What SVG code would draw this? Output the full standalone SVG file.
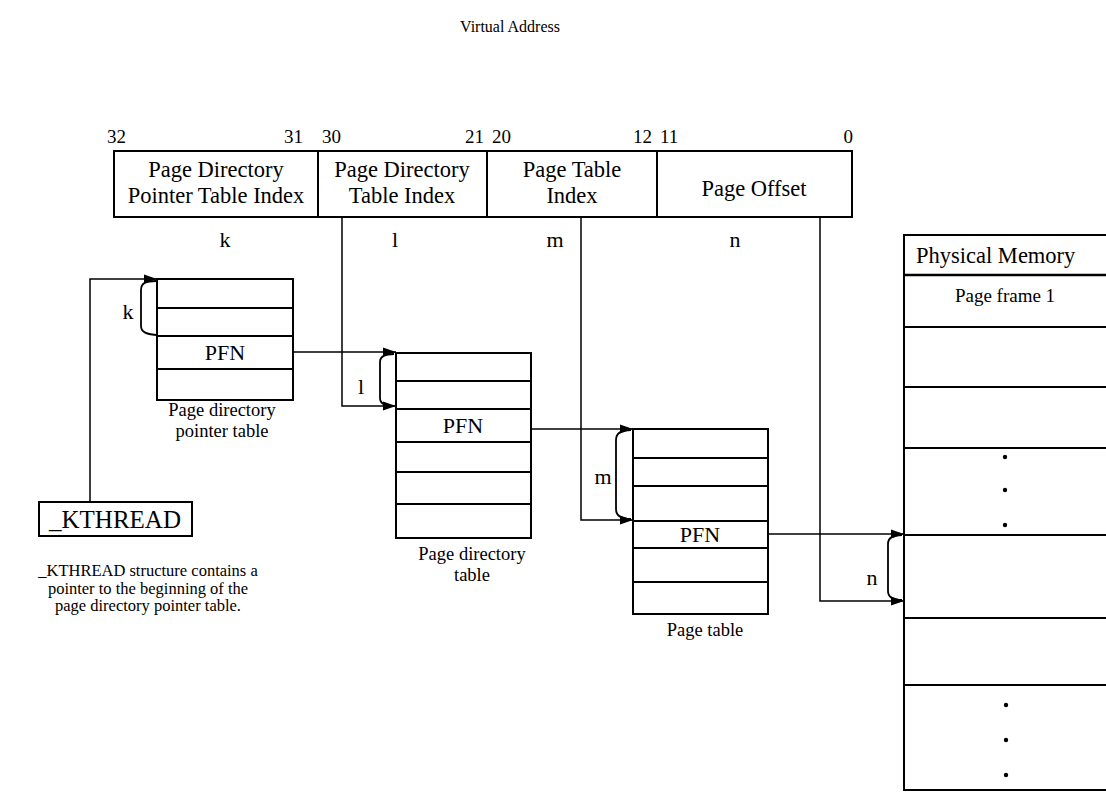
<svg xmlns="http://www.w3.org/2000/svg" width="1106" height="792" viewBox="0 0 1106 792">
<defs>
<marker id="arr" markerUnits="userSpaceOnUse" markerWidth="14" markerHeight="10" refX="13" refY="5" orient="auto">
<path d="M0,0.5 L13,5 L0,9.5 z" fill="#000"/>
</marker>
<style>
text{font-family:"Liberation Serif","Times New Roman",serif;fill:#000}
.box{fill:#fff;stroke:#000;stroke-width:2}
.row{stroke:#000;stroke-width:2;fill:none}
.con{stroke:#000;stroke-width:1.5;fill:none}
.br{stroke:#000;stroke-width:1.8;fill:none}
.h{font-size:22.5px;text-anchor:middle}
.l{font-size:22px;text-anchor:middle}
.b{font-size:19px}
.c{font-size:18.5px;text-anchor:middle}
.p{font-size:22px;text-anchor:middle}
</style>
</defs>
<rect width="1106" height="792" fill="#fff"/>
<text x="510" y="32" text-anchor="middle" style="font-size:16px">Virtual Address</text>

<g id="virtual-address">
<rect class="box" x="114" y="151" width="738" height="66"/>
<line class="row" x1="318" y1="151" x2="318" y2="217"/>
<line class="row" x1="487" y1="151" x2="487" y2="217"/>
<line class="row" x1="657" y1="151" x2="657" y2="217"/>
<text class="h" x="216" y="177">Page Directory</text>
<text class="h" x="216" y="203">Pointer Table Index</text>
<text class="h" x="402" y="177">Page Directory</text>
<text class="h" x="402" y="203">Table Index</text>
<text class="h" x="572" y="177">Page Table</text>
<text class="h" x="572" y="203">Index</text>
<text class="h" x="754" y="196">Page Offset</text>
<text class="b" x="107" y="143">32</text>
<text class="b" x="303" y="143" text-anchor="end">31</text>
<text class="b" x="322" y="143">30</text>
<text class="b" x="484" y="143" text-anchor="end">21</text>
<text class="b" x="492" y="143">20</text>
<text class="b" x="652" y="143" text-anchor="end">12</text>
<text class="b" x="660" y="143">11</text>
<text class="b" x="853" y="143" text-anchor="end">0</text>
<text class="l" x="225" y="247">k</text>
<text class="l" x="395" y="247">l</text>
<text class="l" x="555" y="247">m</text>
<text class="l" x="735" y="247">n</text>
</g>

<g id="kthread">
<rect class="box" x="39" y="502" width="153" height="34"/>
<text x="115" y="528" text-anchor="middle" style="font-size:25px">_KTHREAD</text>
<text x="148" y="576" text-anchor="middle" style="font-size:16.5px">_KTHREAD structure contains a</text>
<text x="148" y="594" text-anchor="middle" style="font-size:16.5px">pointer to the beginning of the</text>
<text x="148" y="611" text-anchor="middle" style="font-size:16.5px">page directory pointer table.</text>
</g>

<g id="pdpt">
<rect class="box" x="157" y="279" width="136" height="121"/>
<line class="row" x1="157" y1="308" x2="293" y2="308"/>
<line class="row" x1="157" y1="336" x2="293" y2="336"/>
<line class="row" x1="157" y1="369" x2="293" y2="369"/>
<text class="p" x="225" y="360">PFN</text>
<text class="c" x="222" y="416">Page directory</text>
<text class="c" x="222" y="437">pointer table</text>
</g>

<g id="pd">
<rect class="box" x="396" y="353" width="135" height="185"/>
<line class="row" x1="396" y1="381" x2="531" y2="381"/>
<line class="row" x1="396" y1="409" x2="531" y2="409"/>
<line class="row" x1="396" y1="442" x2="531" y2="442"/>
<line class="row" x1="396" y1="472" x2="531" y2="472"/>
<line class="row" x1="396" y1="504" x2="531" y2="504"/>
<text class="p" x="463" y="433">PFN</text>
<text class="c" x="472" y="560">Page directory</text>
<text class="c" x="472" y="581">table</text>
</g>

<g id="pt">
<rect class="box" x="633" y="429" width="135" height="185"/>
<line class="row" x1="633" y1="458" x2="768" y2="458"/>
<line class="row" x1="633" y1="486" x2="768" y2="486"/>
<line class="row" x1="633" y1="521" x2="768" y2="521"/>
<line class="row" x1="633" y1="548" x2="768" y2="548"/>
<line class="row" x1="633" y1="582" x2="768" y2="582"/>
<text class="p" x="700" y="542">PFN</text>
<text class="c" x="705" y="636">Page table</text>
</g>

<g id="physical-memory">
<rect class="box" x="904" y="235" width="220" height="555"/>
<line class="row" x1="904" y1="275" x2="1110" y2="275" style="stroke-width:2.5"/>
<line class="row" x1="904" y1="327" x2="1110" y2="327"/>
<line class="row" x1="904" y1="387" x2="1110" y2="387"/>
<line class="row" x1="904" y1="448" x2="1110" y2="448"/>
<line class="row" x1="904" y1="535" x2="1110" y2="535"/>
<line class="row" x1="904" y1="618" x2="1110" y2="618"/>
<line class="row" x1="904" y1="685" x2="1110" y2="685"/>
<text x="916" y="263" style="font-size:22.5px">Physical Memory</text>
<text x="1005" y="302" text-anchor="middle" style="font-size:19px">Page frame 1</text>
<circle cx="1005" cy="457" r="2.2"/>
<circle cx="1005" cy="490" r="2.2"/>
<circle cx="1005" cy="525" r="2.2"/>
<circle cx="1006" cy="705" r="2.2"/>
<circle cx="1006" cy="740" r="2.2"/>
<circle cx="1006" cy="775" r="2.2"/>
</g>

<g id="connectors">
<path class="con" d="M90,502 L90,279 L157,279" marker-end="url(#arr)"/>
<path class="con" d="M293,352 L396,352" marker-end="url(#arr)"/>
<path class="con" d="M342,217 L342,406 L396,406" marker-end="url(#arr)"/>
<path class="con" d="M531,429 L633,429" marker-end="url(#arr)"/>
<path class="con" d="M581,217 L581,520 L633,520" marker-end="url(#arr)"/>
<path class="con" d="M768,534 L904,534" marker-end="url(#arr)"/>
<path class="con" d="M820,217 L820,601 L904,601" marker-end="url(#arr)"/>
<path class="br" d="M156,281 C146,281 141,283 141,290 L141,326 C141,332 146,334 156,335"/>
<path class="br" d="M394,354 C385,354 380,356 380,362 L380,398 C380,404 385,406 394,406"/>
<path class="br" d="M631,430 C621,430 616,433 616,440 L616,509 C616,516 621,519 631,519"/>
<path class="br" d="M902,535 C893,535 888,538 888,544 L888,591 C888,597 893,600 902,600"/>
<text class="l" x="128" y="319">k</text>
<text class="l" x="361" y="394">l</text>
<text class="l" x="603" y="484">m</text>
<text class="l" x="872" y="585">n</text>
</g>
</svg>
